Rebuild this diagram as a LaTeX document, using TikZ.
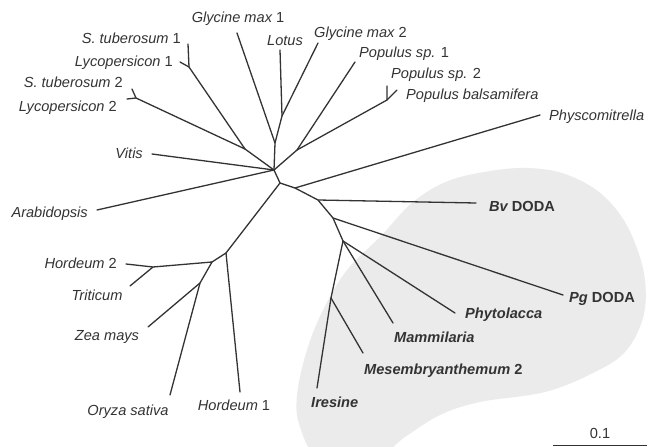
\documentclass[tikz,border=0pt]{standalone}
\usepackage{fontspec}
\setmainfont{Liberation Sans}
\definecolor{ink}{HTML}{333333}
\definecolor{blobgray}{HTML}{EBEBEB}

\begin{document}
\begin{tikzpicture}[x=1pt, y=-1pt,
                    br/.style={line width=1.3pt, draw=ink, line cap=round},
                    sp/.style={text=ink, inner sep=0pt, text height=10.5pt, text depth=0pt,
                               font=\fontsize{14.6}{17}\selectfont\itshape},
                    bsp/.style={sp, font=\fontsize{14.6}{17}\selectfont\bfseries\itshape}]
  \useasboundingbox (0,0) rectangle (648,447);
  \begin{scope}
    \clip (0,0) rectangle (648,447);
    \fill[blobgray] plot[smooth cycle, tension=0.6] coordinates {
      (323,310) (347,270) (380,237) (413,202) (448,181) (490,171) (527,168)
      (562,173) (595,189) (619,213) (635,243) (645,280) (643,318) (625,352)
      (593,373) (545,392) (480,402) (440,415) (405,437) (375,458) (320,458)
      (300,427) (297,395) (307,350)};
  \end{scope}

  \coordinate (stub1) at (188,44);  \coordinate (lyco1) at (180,62);  \coordinate (n1) at (189,67);
  \coordinate (stub2) at (132,89);  \coordinate (lyco2) at (127,99);  \coordinate (n2) at (136,98);
  \coordinate (n3) at (245,149);
  \coordinate (vitis) at (152,154); \coordinate (arab) at (97,210);
  \coordinate (c1) at (274,170);
  \coordinate (gmax1) at (237,33);  \coordinate (g1) at (275,143);
  \coordinate (lotus) at (280,50);  \coordinate (gmax2) at (318,43);  \coordinate (g2) at (282,116);
  \coordinate (pop1) at (355,62);   \coordinate (p1) at (297,150);
  \coordinate (pop2) at (387,86);   \coordinate (pbal) at (397,90);   \coordinate (p2) at (387,100);
  \coordinate (c2) at (280,183);    \coordinate (c3) at (295,188);    \coordinate (phys) at (540,115);
  \coordinate (d1) at (318,200);    \coordinate (bv) at (476,203);
  \coordinate (d2) at (333,218);    \coordinate (pg) at (563,295);
  \coordinate (d3) at (343,241);    \coordinate (phyto) at (455,313); \coordinate (mamm) at (393,323);
  \coordinate (d4) at (331,298);    \coordinate (mesem) at (363,353); \coordinate (ires) at (317,388);
  \coordinate (e1) at (226,253);    \coordinate (hord1) at (240,392);
  \coordinate (e2) at (212,262);    \coordinate (e3) at (153,267);
  \coordinate (hord2) at (126,264); \coordinate (trit) at (130,286);
  \coordinate (e4) at (200,283);    \coordinate (zea) at (148,327);   \coordinate (oryza) at (170,395);
  \coordinate (sbl) at (553,445);   \coordinate (sbr) at (647,445);

  \draw[br] (stub1) -- (n1) -- (n3) -- (c1);
  \draw[br] (lyco1) -- (n1);
  \draw[br] (stub2) -- (n2) -- (n3);
  \draw[br] (lyco2) -- (n2);
  \draw[br] (vitis) -- (c1);
  \draw[br] (arab) -- (c1);
  \draw[br] (gmax1) -- (g1) -- (c1);
  \draw[br] (lotus) -- (g2) -- (g1);
  \draw[br] (gmax2) -- (g2);
  \draw[br] (pop1) -- (p1) -- (c1);
  \draw[br] (pop2) -- (p2) -- (p1);
  \draw[br] (pbal) -- (p2);
  \draw[br] (c1) -- (c2) -- (c3) -- (phys);
  \draw[br] (c3) -- (d1) -- (bv);
  \draw[br] (d1) -- (d2) -- (pg);
  \draw[br] (d2) -- (d3) -- (phyto);
  \draw[br] (d3) -- (mamm);
  \draw[br] (d3) -- (d4) -- (ires);
  \draw[br] (d4) -- (mesem);
  \draw[br] (c2) -- (e1) -- (hord1);
  \draw[br] (e1) -- (e2) -- (e3) -- (hord2);
  \draw[br] (e3) -- (trit);
  \draw[br] (e2) -- (e4) -- (zea);
  \draw[br] (e4) -- (oryza);
  \draw[line width=0.8pt, draw=ink] (sbl) -- (sbr);

  \node[sp, anchor=east] (lstub1) at (181,38) {S.~tuberosum \upshape 1};
  \node[sp, anchor=east] (llyco1) at (173,61) {Lycopersicon \upshape 1};
  \node[sp, anchor=east] (lstub2) at (123,82) {S.~tuberosum \upshape 2};
  \node[sp, anchor=east] (llyco2) at (117,106) {Lycopersicon \upshape 2};
  \node[sp, anchor=east] (lvitis) at (143,153) {Vitis};
  \node[sp, anchor=east] (larab) at (88,212) {Arabidopsis};
  \node[sp] (lgmax1) at (238,17) {Glycine max \upshape 1};
  \node[sp] (llotus) at (285,40) {Lotus};
  \node[sp, anchor=west] (lgmax2) at (314,32) {Glycine max \upshape 2};
  \node[sp, anchor=west] (lpop1) at (359,52) {Populus sp. \upshape 1};
  \node[sp, anchor=west] (lpop2) at (391,73) {Populus sp. \upshape 2};
  \node[sp, anchor=west] (lpbal) at (406,94) {Populus balsamifera};
  \node[sp, anchor=west] (lphys) at (549,115) {Physcomitrella};
  \node[bsp, anchor=west] (lbv) at (489,206) {Bv \upshape DODA};
  \node[bsp, anchor=west] (lpg) at (569,297) {Pg \upshape DODA};
  \node[bsp, anchor=west] (lphyto) at (465,313) {Phytolacca};
  \node[bsp, anchor=west] (lmamm) at (394,337) {Mammilaria};
  \node[bsp, anchor=west] (lmesem) at (364,369) {Mesembryanthemum \upshape 2};
  \node[bsp, anchor=west] (lires) at (311,402) {Iresine};
  \node[sp] (lhord1) at (234,405) {Hordeum \upshape 1};
  \node[sp] (loryza) at (128,410) {Oryza sativa};
  \node[sp] (lzea) at (107,335) {Zea mays};
  \node[sp] (ltrit) at (97,295) {Triticum};
  \node[sp, anchor=east] (lhord2) at (117,263) {Hordeum \upshape 2};
  \node[sp, font=\fontsize{14.6}{17}\selectfont] (lscale) at (600,433) {0.1};
\end{tikzpicture}
\end{document}
